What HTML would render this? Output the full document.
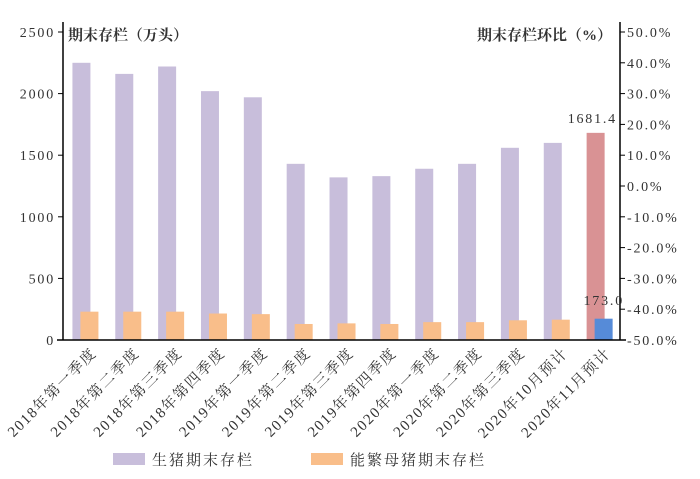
<!DOCTYPE html>
<html><head><meta charset="utf-8"><style>
body{margin:0;background:#fff}
text{font-family:"Liberation Serif","Noto Serif CJK SC",serif;fill:#333}
.n{letter-spacing:1.8px}
</style></head><body>
<svg width="700" height="474" xmlns="http://www.w3.org/2000/svg">
<g id="bars"></g>
<line x1="63" y1="22" x2="63" y2="340" stroke="#000" stroke-width="1.5"/>
<line x1="620" y1="22" x2="620" y2="340" stroke="#000" stroke-width="1.5"/>
<line x1="57" y1="340" x2="626" y2="340" stroke="#000" stroke-width="1.5"/>
<g id="ax"></g>
<text x="68" y="40" font-size="15" font-weight="bold" font-family="Noto Sans CJK SC">期末存栏（万头）</text>
<text x="612" y="40" font-size="15" font-weight="bold" text-anchor="end" font-family="Noto Sans CJK SC">期末存栏环比（%）</text>
<text class="n" x="617" y="123" font-size="14" text-anchor="end">1681.4</text>
<text class="n" x="624" y="305" font-size="14" text-anchor="end">173.0</text>
<rect x="113" y="453" width="32" height="12" fill="#c8bedb"/>
<text x="152" y="465" font-size="15" letter-spacing="2">生猪期末存栏</text>
<rect x="311" y="453" width="32" height="12" fill="#f9be8a"/>
<text x="350" y="465" font-size="15" letter-spacing="2">能繁母猪期末存栏</text>
</svg>
<script>
const p=[2250,2160,2220,2020,1970,1430,1320,1330,1390,1430,1560,1600,1681.4];
const o=[230,230,230,215,210,130,135,130,145,145,160,165,173];
const lab=["2018年第一季度","2018年第二季度","2018年第三季度","2018年第四季度","2019年第一季度","2019年第二季度","2019年第三季度","2019年第四季度","2020年第一季度","2020年第二季度","2020年第三季度","2020年10月预计","2020年11月预计"];
let s="",a="";const k=308/2500;
for(let i=0;i<13;i++){const c=63+42.85*(i+0.5);
s+=`<rect x="${c-12}" y="${340-p[i]*k}" width="18" height="${p[i]*k}" fill="${i==12?'#d99294':'#c8bedb'}"/>`;
s+=`<rect x="${c-4}" y="${340-o[i]*k}" width="18" height="${o[i]*k}" fill="${i==12?'#568bd8':'#f9be8a'}"/>`;
a+=`<text transform="translate(${c+13},354) rotate(-45)" font-size="15" letter-spacing="1.5" text-anchor="end">${lab[i]}</text>`;}
for(let j=0;j<=5;j++){const y=340-j*61.6;a+=`<text class="n" x="55" y="${y+5}" font-size="14" text-anchor="end">${j*500}</text><line x1="58" y1="${y}" x2="63" y2="${y}" stroke="#000"/>`;}
for(let j=0;j<=10;j++){const y=340-j*30.8;const v=(-50+j*10).toFixed(1)+"%";a+=`<line x1="620" y1="${y}" x2="625" y2="${y}" stroke="#000"/><text class="n" x="627" y="${y+5}" font-size="14">${v}</text>`;}
document.getElementById("bars").innerHTML=s;document.getElementById("ax").innerHTML=a;
</script>
</body></html>
